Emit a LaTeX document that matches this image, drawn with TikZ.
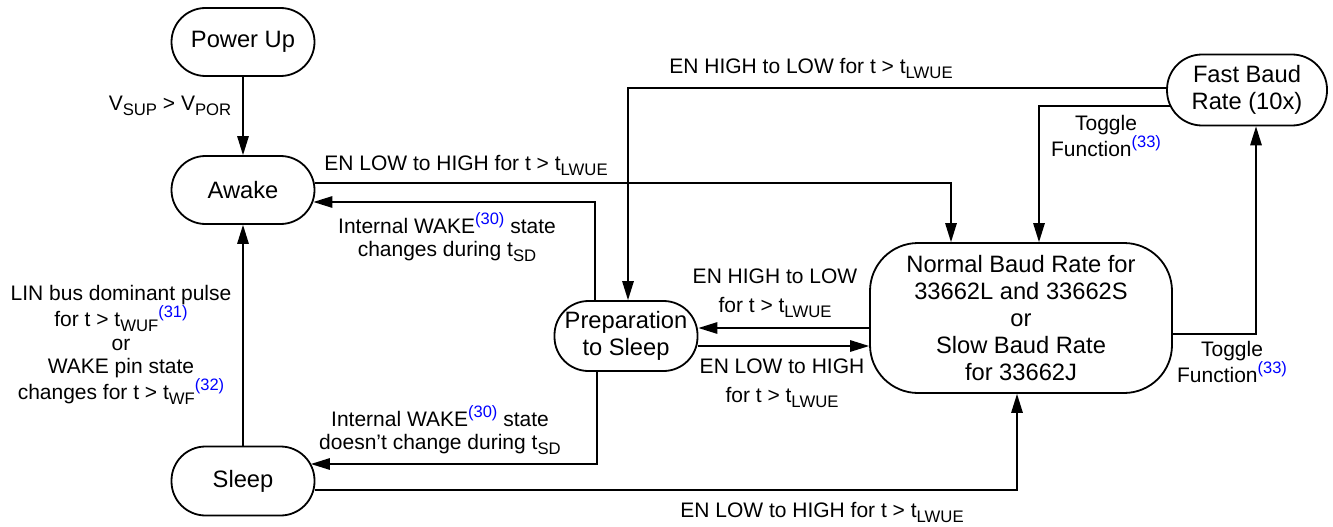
\documentclass[tikz,border=0pt]{standalone}
\usepackage{fontspec}
\setmainfont{Liberation Sans}
\usetikzlibrary{arrows.meta}
\newcommand\sbs[1]{\raisebox{-5pt}{\fontsize{16.7}{16.7}\selectfont #1}}
\newcommand\sps[1]{\raisebox{9pt}{\fontsize{16.5}{16.5}\selectfont\color{blue}#1}}
\begin{document}
\begin{tikzpicture}[x=1pt,y=-1pt,
 state/.style={draw,line width=1.8pt,rounded corners=34pt,align=center,font=\fontsize{23.7}{27}\selectfont,inner sep=0pt,minimum width=143pt,minimum height=68pt},
 lbl/.style={align=center,font=\fontsize{21}{23.5}\selectfont,inner sep=0pt},
 arr/.style={line width=1.4pt,-{Triangle[length=19pt,width=11.5pt]}}]
\path[use as bounding box] (0,0) rectangle (1333,527);

\node[state] (pu) at (243,42) {Power Up};
\node[state] (aw) at (243,190) {Awake};
\node[state,minimum height=69pt] (sl) at (243,481) {Sleep};
\node[state,minimum height=70pt] (prep) at (626,336) {Preparation\\to Sleep};
\node[state,minimum width=302pt,minimum height=150pt,rounded corners=48pt] (norm) at (1021,318)
  {Normal Baud Rate for\\33662L and 33662S\\or\\Slow Baud Rate\\for 33662J};
\node[state,minimum width=160pt,minimum height=71pt,rounded corners=35pt] (fast) at (1247,90) {Fast Baud\\Rate (10x)};

% Power Up -> Awake
\draw[arr] (pu.south) -- (aw.north);
\node[lbl] (l1) at (170,106) {V\sbs{SUP} > V\sbs{POR}};

% Sleep -> Awake
\draw[arr] (sl.north) -- (aw.south);
\node[lbl] (l2) at (121,345) {LIN bus dominant pulse\\for t > t\sbs{WUF}\sps{(31)}\\or\\WAKE pin state\\changes for t > t\sbs{WF}\sps{(32)}};

% Awake -> Normal
\draw[arr] ([yshift=7pt]aw.east) -| ([xshift=-70pt]norm.north);
\node[lbl] (l3) at (466,165) {EN LOW to HIGH for t > t\sbs{LWUE}};

% Prep -> Awake
\draw[arr] ([xshift=-31pt]prep.north) |- ([xshift=-2pt,yshift=-12pt]aw.east);
\node[lbl] (l4) at (447,237) {Internal WAKE\sps{(30)} state\\changes during t\sbs{SD}};

% Fast -> Prep
\draw[arr] ([yshift=2pt]fast.west) -| ([xshift=2pt]prep.north);
\node[lbl] (l5) at (811,68) {EN HIGH to LOW for t > t\sbs{LWUE}};

% Prep -> Sleep
\draw[arr] ([xshift=-29pt]prep.south) |- ([xshift=-4.5pt,yshift=17pt]sl.east);
\node[lbl] (l6) at (440,430) {Internal WAKE\sps{(30)} state\\doesn't change during t\sbs{SD}};

% Sleep -> Normal
\draw[arr] ([yshift=-9pt]sl.east) -| ([xshift=-4pt]norm.south);
\node[lbl] (l7) at (822,512) {EN LOW to HIGH for t > t\sbs{LWUE}};

% Normal -> Prep
\draw[arr] ([yshift=-10pt]norm.west) -- ([yshift=-10pt]norm.west -| prep.east);
\node[lbl] (l8) at (775,293) {EN HIGH to LOW\\[5pt]for t > t\sbs{LWUE}};

% Prep -> Normal
\draw[arr] ([yshift=-10pt]prep.east) -- ([yshift=-10pt]prep.east -| norm.west);
\node[lbl] (l9) at (782,383) {EN LOW to HIGH\\[5pt]for t > t\sbs{LWUE}};

% Fast -> Normal
\draw[arr] ([xshift=3.5pt,yshift=-16pt]fast.west) -| ([xshift=18pt]norm.north);
\node[lbl] (l10) at (1106,136) {Toggle\\Function\sps{(33)}};

% Normal -> Fast
\draw[arr] ([yshift=-16pt]norm.east) -| ([xshift=9pt]fast.south);
\node[lbl] (l11) at (1232,362) {Toggle\\Function\sps{(33)}};
\end{tikzpicture}
\end{document}
